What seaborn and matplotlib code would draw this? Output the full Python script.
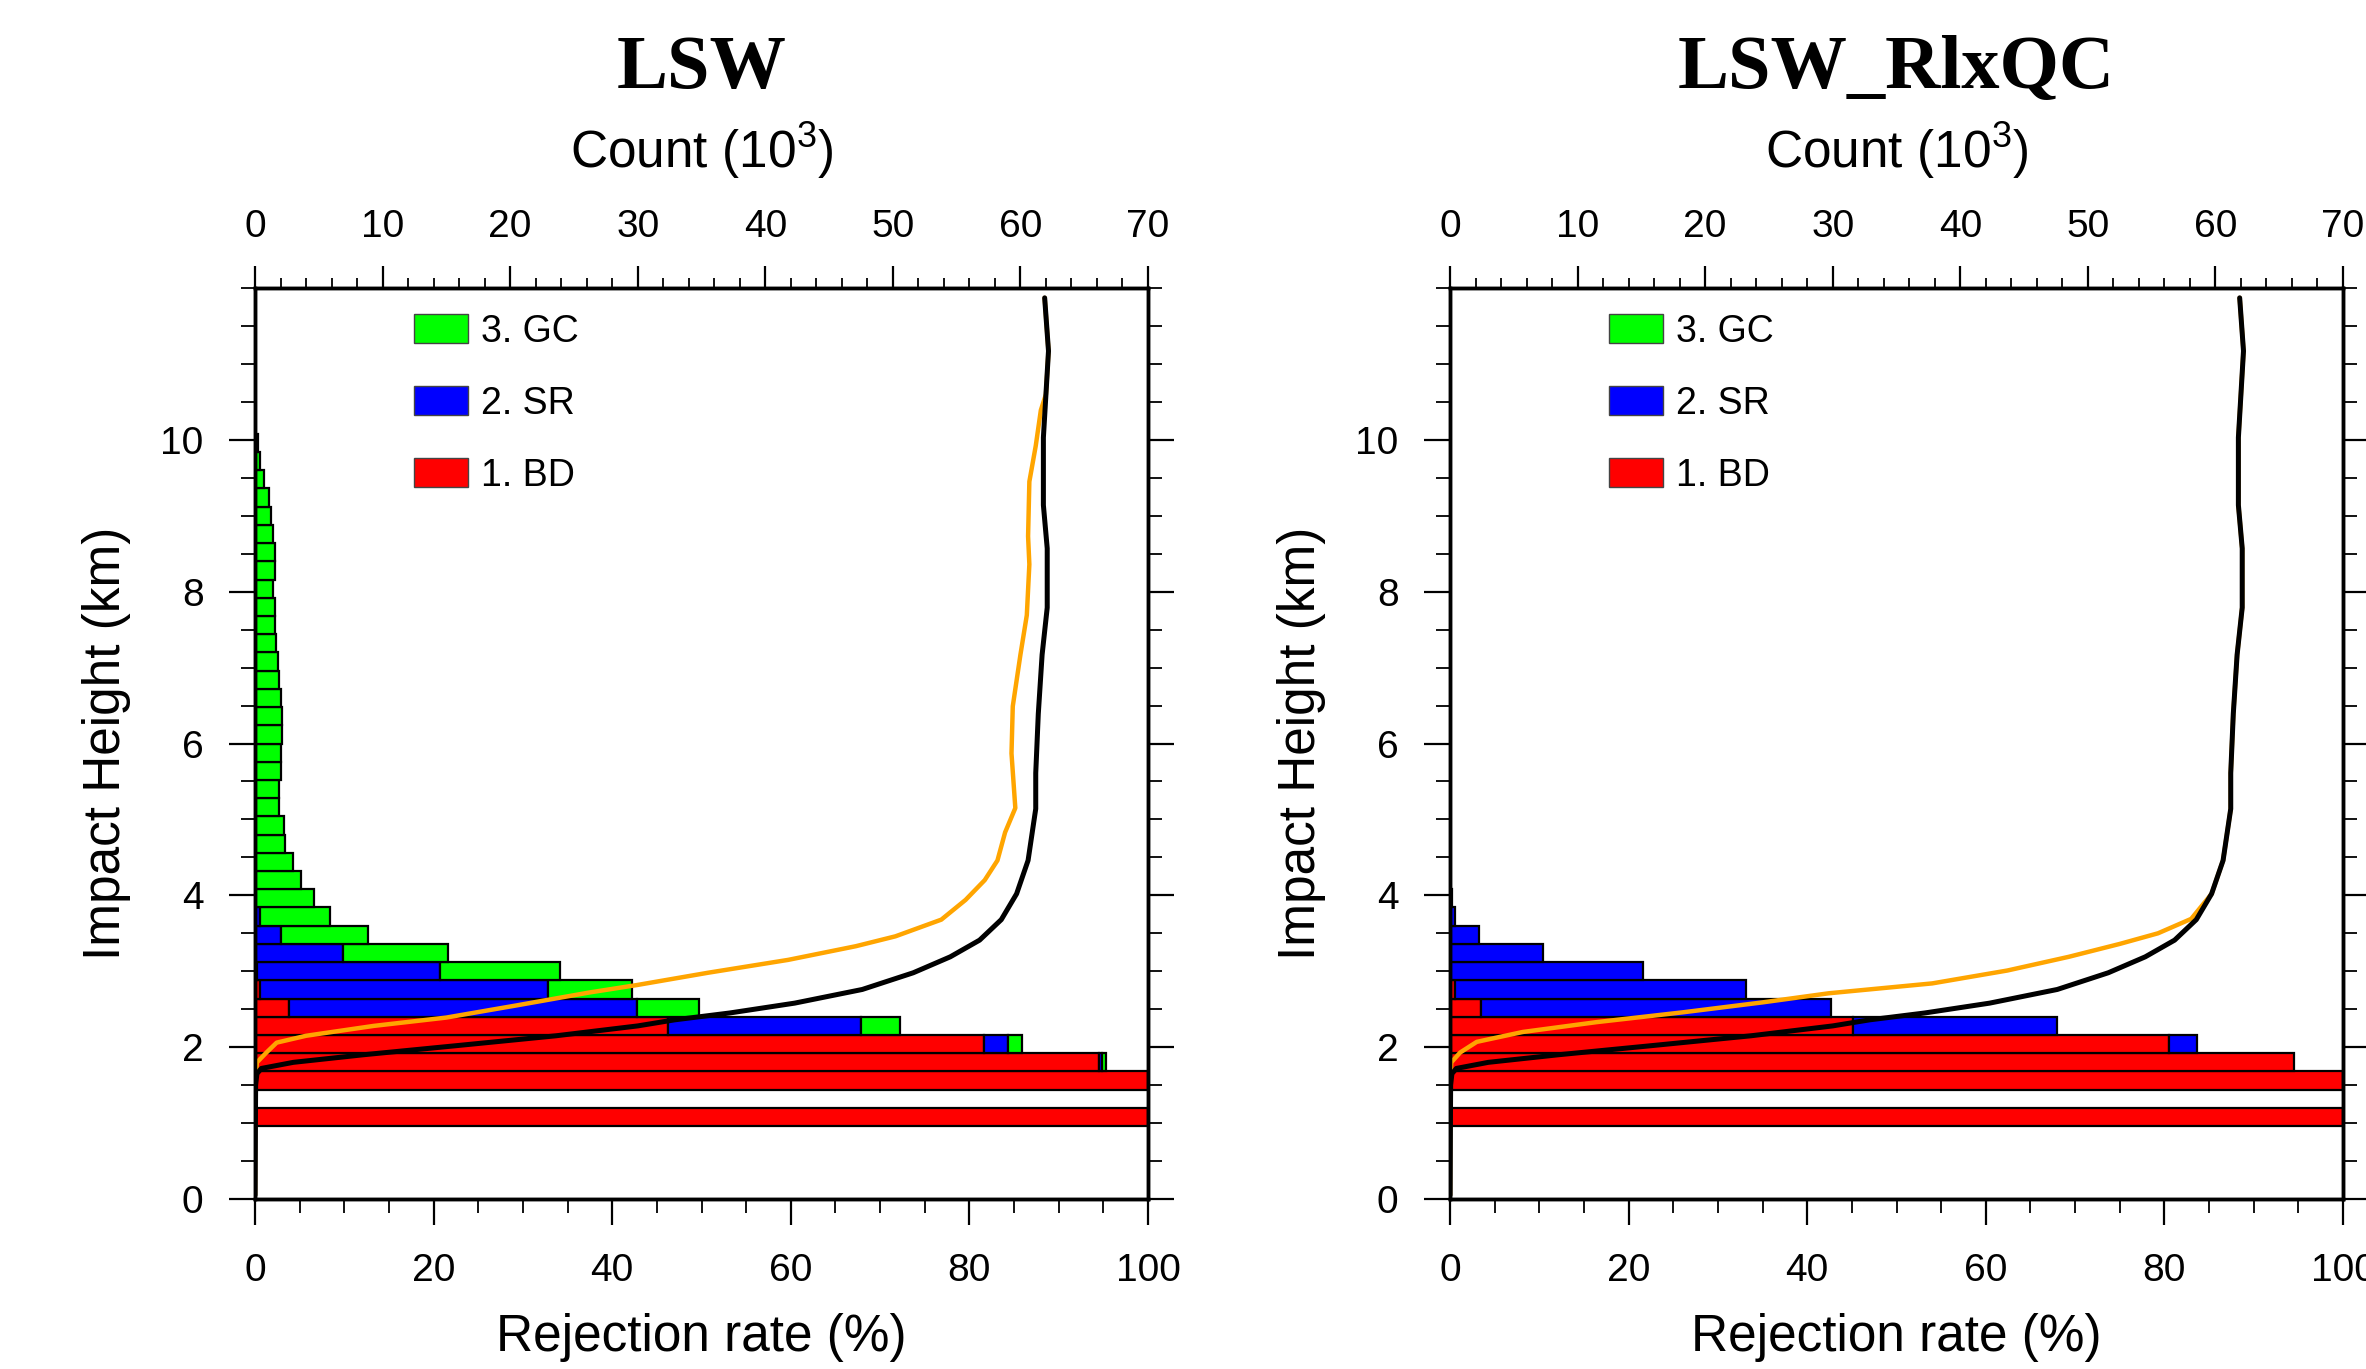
import numpy as np
import matplotlib
matplotlib.use("Agg")
import matplotlib.pyplot as plt
from matplotlib.patches import Patch
from matplotlib.ticker import MultipleLocator
import seaborn as sns

# Impact-height bins (km, bin centres, 0.24 km wide)
bin_center_km = [1.08, 1.32, 1.56, 1.80, 2.04, 2.28, 2.52, 2.76, 3.00, 3.24,
                 3.48, 3.72, 3.96, 4.20, 4.44, 4.68, 4.92, 5.16, 5.40, 5.64,
                 5.88, 6.12, 6.36, 6.60, 6.84, 7.08, 7.32, 7.56, 7.80, 8.04,
                 8.28, 8.52, 8.76, 9.00, 9.24, 9.48, 9.72, 9.96]
BIN_WIDTH = 0.24

# LSW: rejection rate (%) by QC step
lsw_bd = [100, 0, 100, 94.5, 81.6, 46.2, 3.8, 0.6, 0.2, 0,
          0, 0, 0, 0, 0, 0, 0, 0, 0, 0,
          0, 0, 0, 0, 0, 0, 0, 0, 0, 0,
          0, 0, 0, 0, 0, 0, 0, 0]
lsw_sr = [0, 0, 0, 0.3, 2.7, 21.7, 39.0, 32.2, 20.5, 9.8,
          2.9, 0.6, 0, 0, 0, 0, 0, 0, 0, 0,
          0, 0, 0, 0, 0, 0, 0, 0, 0, 0,
          0, 0, 0, 0, 0, 0, 0, 0]
lsw_gc = [0, 0, 0, 0.5, 1.6, 4.3, 6.9, 9.4, 13.4, 11.8,
          9.7, 7.8, 6.6, 5.2, 4.2, 3.4, 3.2, 2.7, 2.7, 2.9,
          2.9, 3.0, 3.0, 2.9, 2.7, 2.6, 2.4, 2.2, 2.2, 2.0,
          2.2, 2.2, 2.0, 1.8, 1.6, 1.0, 0.6, 0.3]

# LSW_RlxQC: rejection rate (%) by QC step
rlx_bd = [100, 0, 100, 94.5, 80.5, 45.1, 3.5, 0.6, 0, 0,
          0, 0, 0, 0, 0, 0, 0, 0, 0, 0,
          0, 0, 0, 0, 0, 0, 0, 0, 0, 0,
          0, 0, 0, 0, 0, 0, 0, 0]
rlx_sr = [0, 0, 0, 0, 3.2, 22.9, 39.2, 32.5, 21.6, 10.4,
          3.2, 0.6, 0.2, 0, 0, 0, 0, 0, 0, 0,
          0, 0, 0, 0, 0, 0, 0, 0, 0, 0,
          0, 0, 0, 0, 0, 0, 0, 0]
rlx_gc = [0] * 38

# total observation count (10^3) vs impact height (km)
h_total = [0.05, 1.50, 1.65, 1.72, 1.80, 1.90, 2.02, 2.15, 2.28, 2.36,
           2.45, 2.58, 2.76, 2.98, 3.19, 3.41, 3.68, 4.02, 4.46, 5.14,
           5.61, 6.39, 7.17, 7.79, 8.57, 9.14, 10.03, 10.60, 11.17, 11.87]
n_total = [0.0, 0.05, 0.15, 0.5, 3.0, 8.5, 15.8, 23.6, 30.0, 32.9,
           37.2, 42.3, 47.6, 51.6, 54.5, 56.8, 58.5, 59.7, 60.6, 61.2,
           61.2, 61.4, 61.7, 62.1, 62.1, 61.8, 61.8, 62.0, 62.2, 61.9]

# count after QC, LSW
h_lsw_qc = [0.05, 1.50, 1.80, 1.93, 2.06, 2.15, 2.28, 2.39, 2.55, 2.72,
            2.82, 2.98, 3.15, 3.33, 3.46, 3.68, 3.94, 4.20, 4.46, 4.83,
            5.15, 5.87, 6.49, 7.17, 7.69, 8.36, 8.73, 9.45, 9.92, 10.39,
            10.60, 11.17, 11.87]
n_lsw_qc = [0.0, 0.0, 0.15, 0.9, 1.7, 4.0, 9.3, 15.0, 20.5, 26.2,
            30.0, 35.5, 41.8, 47.1, 50.2, 53.8, 55.7, 57.2, 58.2, 58.8,
            59.6, 59.3, 59.4, 60.0, 60.5, 60.7, 60.6, 60.7, 61.2, 61.6,
            62.0, 62.2, 61.9]

# count after QC, LSW_RlxQC
h_rlx_qc = [0.05, 1.50, 1.80, 1.93, 2.07, 2.20, 2.33, 2.46, 2.59, 2.71,
            2.84, 3.01, 3.19, 3.36, 3.50, 3.69, 4.02, 4.46, 5.14, 5.61,
            6.39, 7.17, 7.79, 8.57, 9.14, 10.03, 10.60, 11.17, 11.87]
n_rlx_qc = [0.0, 0.0, 0.1, 0.8, 2.1, 5.7, 11.5, 18.3, 24.5, 29.7,
            37.8, 43.7, 48.5, 52.5, 55.5, 58.1, 59.7, 60.6, 61.2, 61.2,
            61.4, 61.7, 62.1, 62.1, 61.8, 61.8, 62.0, 62.2, 61.9]

QC_COLORS = {'1. BD': '#ff0000', '2. SR': '#0000ff', '3. GC': '#00ff00'}
LABEL_SIZE = 37
TICK_SIZE = 28


def draw_panel(fig, rect, title, bd, sr, gc, h_qc, n_qc):
    ax = fig.add_axes(rect)
    y = np.array(bin_center_km)
    bd, sr, gc = np.array(bd), np.array(sr), np.array(gc)

    # stacked horizontal bars: BD, then SR, then GC
    for width, left, name in [(bd, 0 * bd, '1. BD'), (sr, bd, '2. SR'), (gc, bd + sr, '3. GC')]:
        m = width > 0
        ax.barh(y[m], width[m], left=left[m], height=BIN_WIDTH,
                color=QC_COLORS[name], edgecolor='black', linewidth=1.6)

    ax.set_xlim(0, 100)
    ax.set_ylim(0, 12)
    ax.xaxis.set_major_locator(MultipleLocator(20))
    ax.xaxis.set_minor_locator(MultipleLocator(5))
    ax.set_yticks([0, 2, 4, 6, 8, 10])
    ax.yaxis.set_minor_locator(MultipleLocator(0.5))
    ax.tick_params(axis='both', which='major', direction='out', length=19,
                   width=1.6, labelsize=TICK_SIZE, pad=18)
    ax.tick_params(axis='both', which='minor', direction='out', length=10, width=1.3)
    ax.tick_params(axis='y', which='both', left=True, right=True, labelright=False)
    ax.tick_params(axis='x', which='both', top=False)
    ax.tick_params(axis='x', which='major', pad=20)
    ax.set_xlabel('Rejection rate (%)', fontsize=LABEL_SIZE, labelpad=17)
    ax.set_ylabel('Impact Height (km)', fontsize=LABEL_SIZE, labelpad=21)

    handles = [Patch(facecolor=QC_COLORS[k], edgecolor='#444444', linewidth=1.0, label=k)
               for k in ['3. GC', '2. SR', '1. BD']]
    ax.legend(handles=handles, loc='upper left', bbox_to_anchor=(0.178, 0.972),
              frameon=False, fontsize=27, handlelength=1.45, handleheight=0.85,
              handletextpad=0.35, labelspacing=0.96, borderpad=0, borderaxespad=0)

    # counts on the top axis
    ax_top = ax.twiny()
    sns.lineplot(x=n_qc, y=h_qc, ax=ax_top, color='orange', linewidth=3.2,
                 estimator=None, sort=False, orient='y')
    sns.lineplot(x=n_total, y=h_total, ax=ax_top, color='black', linewidth=3.6,
                 estimator=None, sort=False, orient='y')
    ax_top.set_xlim(0, 70)
    ax_top.set_ylim(0, 12)
    ax_top.xaxis.set_major_locator(MultipleLocator(10))
    ax_top.xaxis.set_minor_locator(MultipleLocator(2))
    ax_top.tick_params(axis='x', which='major', direction='out', length=16,
                       width=1.6, labelsize=TICK_SIZE, pad=15)
    ax_top.tick_params(axis='x', which='minor', direction='out', length=7, width=1.3)
    ax_top.set_xlabel('')
    ax_top.set_ylabel('')

    for a in (ax, ax_top):
        for sp in a.spines.values():
            sp.set_visible(True)
            sp.set_linewidth(2.5)
            sp.set_color('black')

    xc = rect[0] + rect[2] / 2
    fig.text(xc, 1 - 88 / 1369, title, ha='center', va='baseline',
             family=['Liberation Serif', 'DejaVu Serif'], fontweight='bold', fontsize=55)
    fig.text(xc, 1 - 168 / 1369, 'Count (10$^3$)', ha='center', va='baseline',
             fontsize=LABEL_SIZE)
    return ax


sns.set_theme(style='ticks')
plt.rcParams['font.family'] = ['Liberation Sans', 'DejaVu Sans']
plt.rcParams['mathtext.default'] = 'regular'
plt.rcParams['axes.edgecolor'] = 'black'
plt.rcParams['xtick.color'] = 'black'
plt.rcParams['ytick.color'] = 'black'
plt.rcParams['text.color'] = 'black'
plt.rcParams['axes.labelcolor'] = 'black'

fig = plt.figure(figsize=(23.66, 13.69), dpi=100)
fig.patch.set_facecolor('white')

ax_h, ax_b = 911 / 1369, 1 - 1199 / 1369
ax_w = 893 / 2366
draw_panel(fig, [255 / 2366, ax_b, ax_w, ax_h], 'LSW',
           lsw_bd, lsw_sr, lsw_gc, h_lsw_qc, n_lsw_qc)
draw_panel(fig, [1450 / 2366, ax_b, ax_w, ax_h], 'LSW_RlxQC',
           rlx_bd, rlx_sr, rlx_gc, h_rlx_qc, n_rlx_qc)

fig.savefig('out.png', dpi=100, facecolor='white')
